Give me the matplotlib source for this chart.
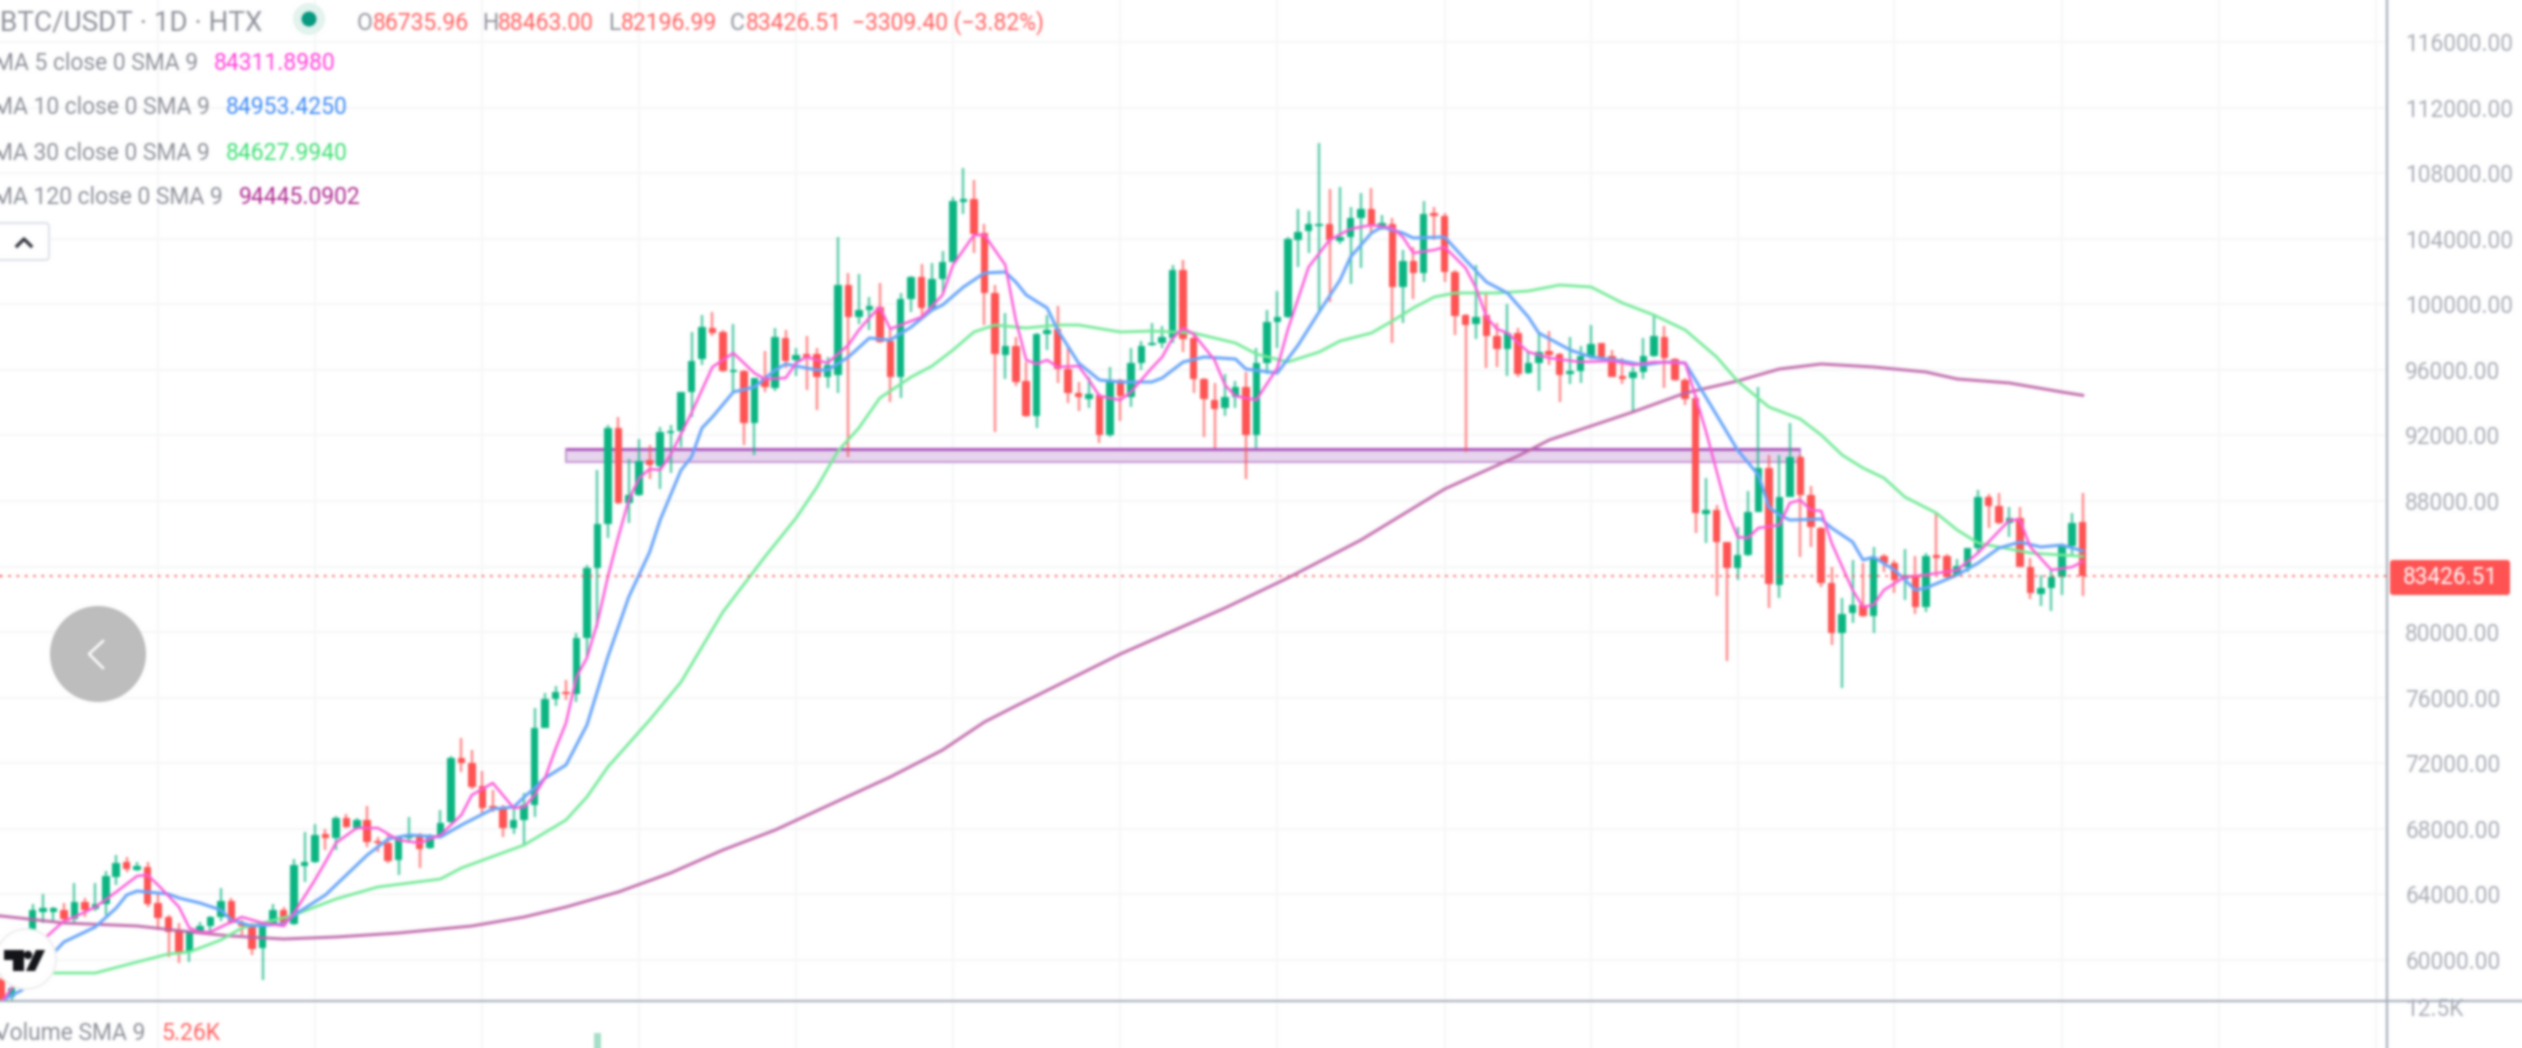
#!/usr/bin/env python
import matplotlib
matplotlib.use("Agg")
import matplotlib.pyplot as plt
import numpy as np
from matplotlib.patches import Circle, FancyBboxPatch, Polygon, Rectangle

plt.rcParams["font.family"] = ["Roboto", "DejaVu Sans"]

# daily candles, oldest first
opens = [
    58780, 57743, 58292, 61708, 62928, 62928, 63050, 62501, 63538, 63111,
    63416, 65063, 65978, 65490, 65673, 63477, 62623, 61830, 60488, 61708,
    62074, 62623, 63599, 62196, 62196, 60732, 62135, 63050, 62196, 65734,
    65978, 67686, 67442, 68662, 68052, 68540, 67259, 67137, 66100, 67442,
    67625, 66832, 67625, 68418, 72322, 72017, 70614, 69394, 69333, 68052,
    68540, 69455, 74152, 75921, 76318, 76226, 79642, 83912, 86596, 92452,
    87877, 88365, 90500, 90134, 92147, 92269, 94648, 96661, 98552, 98308,
    95868, 95929, 92757, 95502, 94892, 97942, 96600, 96966, 96966, 95563,
    95685, 101175, 99223, 99650, 99833, 97759, 95563, 100321, 101663, 99772,
    101541, 102578, 106238, 106421, 104347, 100687, 96905, 97454, 95319, 93184,
    98186, 98491, 96051, 94587, 94221, 94465, 92025, 95380, 94343, 96417,
    97515, 97637, 97942, 102090, 97942, 95441, 94160, 93672, 94343, 94953,
    92025, 96417, 98918, 99223, 103920, 104469, 104774, 104896, 103859, 104103,
    105262, 105811, 104713, 104896, 101053, 102639, 101907, 105567, 105384, 101968,
    99345, 98796, 99345, 98064, 97271, 98247, 95807, 96417, 97149, 96966,
    95746, 95929, 96783, 97637, 96844, 95624, 95502, 95868, 96844, 98003,
    96661, 95380, 94282, 87206, 87450, 85498, 83912, 84705, 87328, 90012,
    82875, 88243, 90683, 88365, 86352, 82997, 79947, 81167, 81655, 80984,
    84644, 84217, 83241, 83485, 81533, 84705, 84644, 83485, 83973, 85132,
    88243, 87694, 86657, 86962, 83973, 82326, 82692, 83363, 85254, 86735.96,
]
closes = [
    57560, 58292, 60610, 63050, 63172, 63172, 62501, 63538, 63050, 63416,
    65124, 65917, 65551, 65734, 63416, 62562, 61708, 60427, 61769, 62074,
    62623, 63599, 62257, 62074, 60671, 62196, 63050, 62135, 65795, 65978,
    67625, 67442, 68662, 68113, 68540, 67198, 67137, 66039, 67503, 67625,
    66771, 67625, 68357, 72322, 72017, 70553, 69272, 69272, 68052, 68540,
    69455, 74152, 75921, 76348, 76226, 79642, 83912, 86596, 92452, 87877,
    88365, 90439, 90195, 92208, 92269, 94648, 96539, 98613, 98247, 95929,
    95990, 92757, 95502, 94953, 98003, 96539, 96905, 96783, 95563, 96295,
    101175, 99223, 99650, 99894, 97698, 95563, 100321, 101663, 99772, 101541,
    102578, 106299, 106421, 104286, 100687, 96966, 97454, 95258, 93184, 98186,
    98430, 96051, 94587, 94343, 94526, 92025, 95319, 94404, 96417, 97454,
    97637, 97993, 102090, 97881, 95441, 94221, 93611, 94343, 94953, 92025,
    96417, 98918, 99223, 103981, 104408, 104896, 104896, 103920, 104103, 105262,
    105811, 104774, 104957, 101053, 102639, 101907, 105506, 105384, 101968, 99284,
    98735, 99223, 98064, 97271, 98247, 95746, 96417, 97088, 96905, 95685,
    95929, 96844, 97576, 96783, 95563, 95441, 95868, 96844, 98064, 96722,
    95380, 94221, 87267, 87450, 85498, 83912, 84705, 87328, 90012, 82936,
    88243, 90683, 88365, 86413, 82997, 79947, 81106, 81655, 80984, 84583,
    84217, 83180, 83485, 81533, 84644, 84522, 83363, 84034, 85132, 88243,
    87694, 86657, 86962, 83973, 82387, 82692, 83363, 85254, 86657, 83426.51,
]
highs = [
    58902, 58475, 60915, 63416, 64026, 63233, 63477, 64697, 63782, 64697,
    65429, 66405, 66283, 65978, 65978, 64026, 62745, 62257, 61769, 62318,
    62684, 64392, 63782, 62440, 62257, 62196, 63416, 63233, 66161, 67808,
    68296, 67991, 68784, 68906, 68662, 69394, 67503, 67625, 67564, 68723,
    67747, 67686, 69150, 72444, 73542, 72810, 71529, 70370, 69455, 69333,
    70187, 75372, 76287, 76714, 77080, 79947, 84095, 89890, 92635, 93123,
    90561, 91781, 91415, 92513, 92635, 94648, 98308, 99345, 99528, 98430,
    98796, 95990, 95502, 97149, 98552, 98430, 97332, 98064, 97332, 96783,
    104103, 101907, 101846, 100443, 101297, 98430, 100687, 101724, 102456, 102517,
    103249, 106543, 108312, 107580, 104896, 101175, 99467, 98003, 96478, 98247,
    99345, 99894, 97393, 95258, 95563, 94587, 96173, 95441, 97332, 97759,
    98857, 98674, 102395, 102700, 98125, 95502, 95197, 95746, 95319, 95868,
    97332, 99650, 100809, 104103, 105811, 105689, 109837, 107031, 107153, 105933,
    106787, 107092, 105445, 105262, 103310, 103493, 106299, 105933, 105567, 102090,
    99406, 102395, 100687, 98857, 100016, 98552, 97088, 98308, 98369, 97027,
    98003, 97454, 98735, 97637, 97210, 96722, 96173, 97942, 99406, 98674,
    96722, 95502, 94465, 89402, 87755, 85498, 86413, 88609, 94953, 90805,
    90805, 92757, 90805, 88914, 86413, 83973, 82082, 84400, 84217, 85193,
    84766, 84400, 85071, 84644, 84827, 87328, 84766, 84461, 85132, 88670,
    88426, 88487, 87633, 87633, 84522, 83485, 83790, 85315, 87267, 88463,
]
lows = [
    57255, 57560, 58170, 61403, 62257, 62379, 62257, 62318, 62623, 62989,
    62745, 64575, 65368, 65429, 63233, 61830, 60183, 59817, 59878, 61647,
    61647, 62379, 62196, 61525, 60305, 58780, 62074, 62013, 62135, 64758,
    65917, 66710, 66710, 68052, 67930, 66893, 66588, 65917, 65185, 67137,
    65612, 66771, 67564, 68357, 71468, 70431, 68845, 69028, 67503, 67686,
    67015, 68723, 74152, 75494, 75860, 75738, 78483, 80252, 85742, 87816,
    86657, 88304, 89341, 88731, 89707, 91293, 93123, 96295, 98064, 95868,
    94587, 91415, 90805, 94648, 94709, 96112, 95624, 94770, 93550, 94892,
    94587, 90683, 98796, 98430, 97637, 94038, 94282, 99528, 99223, 99711,
    100687, 102578, 105506, 103127, 98735, 92208, 95441, 95014, 93123, 92452,
    97210, 95197, 93977, 93489, 93672, 91537, 91903, 92879, 93733, 95990,
    97454, 97332, 97637, 97088, 94587, 91903, 91232, 93184, 93672, 89341,
    91232, 95746, 97332, 99162, 102273, 103127, 99650, 100138, 103676, 101236,
    102212, 104347, 104530, 97637, 98857, 100321, 101358, 103920, 101358, 98125,
    90988, 97881, 96112, 96173, 95624, 95563, 95746, 94709, 96295, 94038,
    95136, 95197, 96661, 96722, 95563, 95136, 93428, 95441, 96783, 94892,
    95319, 93855, 86047, 85437, 82204, 78239, 83180, 84644, 87328, 81472,
    82082, 88243, 84583, 85193, 82753, 79215, 76592, 80557, 80923, 79947,
    83668, 82387, 81960, 81106, 81228, 83607, 83241, 83424, 83668, 84827,
    86352, 86596, 85803, 83973, 82021, 81594, 81289, 82265, 84583, 82196.99,
]

# moving averages, candle index and value at the bends of each line
ma5_idx = [0, 2, 4, 6, 7, 9, 11, 13, 14, 15, 17, 18, 19, 20, 22, 23, 25, 27, 28, 30,
           31, 32, 34, 36, 38, 40, 42, 44, 45, 47, 49, 50, 51, 52, 53, 54, 55, 56, 57, 58,
           59, 60, 61, 62, 63, 64, 66, 68, 70, 72, 73, 75, 76, 77, 79, 81, 82, 83, 84, 85,
           86, 88, 90, 91, 93, 94, 96, 97, 98, 99, 100, 101, 103, 104, 105, 107, 108, 110, 111, 112,
           113, 114, 116, 117, 118, 120, 122, 123, 125, 127, 129, 131, 133, 134, 135, 137, 138, 140, 141, 142,
           143, 144, 146, 148, 151, 154, 156, 158, 161, 162, 163, 165, 166, 167, 168, 170, 171, 172, 173, 174,
           175, 177, 178, 179, 180, 182, 184, 187, 189, 192, 193, 194, 196, 198, 199]
ma5_val = [57438, 59085, 61220, 62379, 62623, 63233, 64148, 65124, 65185, 64575, 63233, 61952, 61708, 61708, 62318, 62623, 62257, 62074, 62867, 64880,
           65978, 67137, 68052, 68052, 67320, 67137, 67625, 68845, 70065, 70797, 69272, 69333, 70065, 71102, 72871, 74457, 77263, 78422, 80557, 83363,
           85803, 88060, 89402, 89951, 89890, 90805, 93367, 96173, 97027, 95807, 95441, 95502, 96417, 96783, 96417, 97515, 98430, 99162, 99833, 98491,
           98735, 99223, 100565, 102395, 104225, 104225, 102395, 99040, 96600, 96356, 96600, 96173, 96234, 95380, 94404, 94160, 94648, 96112, 96783, 97942,
           98552, 98186, 96600, 95075, 94404, 94160, 96112, 98430, 102273, 103920, 104591, 104835, 104652, 104103, 103127, 103310, 103493, 102212, 100992, 99223,
           98491, 98247, 97088, 96722, 96478, 96539, 96295, 96478, 96417, 94343, 92208, 87450, 85803, 85742, 86352, 86535, 87877, 88060, 87450, 87389,
           85437, 82570, 81533, 81655, 82570, 83363, 83485, 83790, 84827, 86840, 86840, 85193, 83790, 83973, 84311.9]

ma10_idx = [0, 2, 5, 6, 9, 11, 12, 13, 16, 17, 19, 21, 22, 24, 27, 28, 31, 33, 35, 37,
            39, 42, 44, 47, 49, 50, 51, 52, 54, 56, 58, 60, 62, 63, 65, 66, 67, 68, 70, 72,
            74, 75, 78, 79, 81, 83, 85, 87, 89, 90, 92, 94, 96, 97, 98, 100, 101, 103, 105, 107,
            110, 111, 113, 115, 118, 119, 122, 124, 126, 128, 129, 131, 132, 134, 135, 138, 140, 142, 144, 146,
            147, 150, 152, 155, 157, 159, 161, 164, 166, 168, 169, 170, 171, 174, 175, 177, 178, 179, 181, 183,
            184, 187, 189, 191, 193, 195, 197, 199]
ma10_val = [57499, 58170, 60427, 61098, 62013, 63172, 63965, 64209, 64026, 63782, 63477, 63050, 62440, 62074, 62196, 62745, 63965, 65185, 66405, 67381,
            67625, 67503, 68235, 69211, 69333, 69943, 70492, 71102, 71895, 74335, 78483, 82143, 84888, 86840, 89890, 90683, 92452, 93123, 94648, 94953,
            95990, 96356, 95990, 95990, 96783, 97942, 97820, 98613, 99650, 99955, 101053, 101907, 101968, 101358, 100565, 99772, 98430, 96417, 95380, 95258,
            95258, 95502, 96478, 96783, 96661, 96051, 95807, 97515, 99528, 101480, 102883, 104347, 104713, 104347, 104042, 104103, 102700, 101358, 100687, 99223,
            98247, 97210, 96783, 96539, 96295, 96478, 96417, 93245, 91110, 89585, 87633, 87145, 86840, 86901, 86352, 85498, 84400, 84583, 83790, 82570,
            82692, 83485, 84217, 85132, 85498, 85193, 85315, 84953.43]

ma30_idx = [0, 5, 7, 9, 13, 16, 18, 21, 23, 25, 28, 32, 36, 42, 44, 50, 54, 56, 58, 62,
            65, 67, 69, 73, 76, 78, 80, 82, 84, 87, 89, 91, 93, 95, 98, 101, 103, 107, 110, 114,
            118, 120, 123, 126, 128, 131, 133, 135, 137, 139, 143, 146, 149, 152, 155, 158, 161, 164, 166, 169,
            172, 174, 176, 178, 180, 182, 185, 187, 189, 192, 194, 197, 199]
ma30_val = [59146, 59207, 59207, 59207, 59878, 60366, 60488, 61220, 61952, 62257, 62745, 63721, 64453, 64941, 65612, 67015, 68540, 69943, 71773, 74640,
            76958, 79093, 81228, 84583, 86962, 88853, 91049, 92452, 94282, 95563, 96234, 97210, 98308, 98735, 98552, 98735, 98735, 98308, 98369, 98247,
            97637, 96966, 96478, 97088, 97759, 98247, 98979, 99772, 100443, 100687, 100687, 100809, 101175, 101053, 100077, 99345, 98430, 96783, 95319, 93733,
            93001, 92025, 90805, 90012, 89402, 88243, 87267, 86230, 85437, 85071, 84827, 84705, 84627.99]

ma120_idx = [0, 6, 13, 19, 22, 27, 32, 38, 45, 50, 54, 59, 64, 69, 74, 80, 85, 90, 94, 97,
             107, 117, 123, 130, 138, 145, 148, 156, 161, 166, 170, 174, 179, 184, 187, 192, 197, 199]
ma120_val = [62684, 62257, 62074, 61647, 61464, 61281, 61403, 61647, 62074, 62623, 63233, 64148, 65307, 66710, 67930, 69699, 71163, 72810, 74518, 75494,
             78666, 81472, 83302, 85620, 88731, 90744, 91720, 93428, 94587, 95319, 96051, 96356, 96173, 95868, 95441, 95197, 94648, 94445.09]

y_ticks = list(range(60000, 116001, 4000))
month_idx = [15, 30, 46, 61, 76, 91, 107, 122, 138, 152, 166, 181, 197, 212, 227]

band_left = 54
band_right = 172
band_top = 91171
band_bottom = 90378

volume_idx = [57]
volume_val = [8600]

up_col = "#0BB582"
down_col = "#FF5252"
grid_col = "#F6F7F9"
text_col = "#A9ADB6"
frame_col = "#A8AFBB"


# the screenshot is soft, so soften the whole figure a little
def soften(img, dpi):
    weights = {0: 0.30, 1: 0.235, 2: 0.09, 3: 0.025}
    pad = 4
    padded = np.pad(img, ((pad, pad), (pad, pad), (0, 0)), mode="edge")
    for axis in (0, 1):
        out = padded * weights[0]
        for d in (1, 2, 3):
            out = out + (np.roll(padded, d, axis=axis) + np.roll(padded, -d, axis=axis)) * weights[d]
        padded = out
    return padded[pad:-pad, pad:-pad], 0, 0


fig = plt.figure(figsize=(25.22, 10.48), dpi=100)
fig.set_agg_filter(soften)
ax = fig.add_axes([0, 47 / 1048, 2387 / 2522, 1001 / 1048])
vol_ax = fig.add_axes([0, 0, 2387 / 2522, 46 / 1048])

# band sits behind the candles
ax.add_patch(Rectangle((band_left, band_bottom), band_right - band_left, band_top - band_bottom,
                       facecolor="#E7D4EE", edgecolor="#C596D2", lw=1.4, zorder=1))
ax.plot([band_left, band_right], [band_top, band_top], color="#AB52BC", lw=2, zorder=1.5, solid_capstyle="butt")

for i in range(len(opens)):
    col = up_col if closes[i] >= opens[i] else down_col
    ax.vlines(i, lows[i], highs[i], color=col, lw=1.7, alpha=0.7, zorder=2)
    ax.bar(i, abs(closes[i] - opens[i]), bottom=min(opens[i], closes[i]), width=0.72, color=col, zorder=3)

ax.plot(ma120_idx, ma120_val, color="#BE64A8", lw=2.2, alpha=0.9, zorder=4)
ax.plot(ma30_idx, ma30_val, color="#74EA98", lw=2, zorder=4)
ax.plot(ma10_idx, ma10_val, color="#68A5FA", lw=2.2, zorder=4)
ax.plot(ma5_idx, ma5_val, color="#FB5AD8", lw=1.8, zorder=4)

ax.axhline(closes[-1], color=down_col, lw=1.3, linestyle=(0, (1.4, 3.2)), zorder=5)

ax.set_xlim(-0.111, 228.09)
ax.set_ylim(57499, 118560)
ax.set_xticks(month_idx)
ax.set_yticks(y_ticks)
# 84000 sits behind the price tag in the reference
ax.set_yticklabels(["" if t == 84000 else f"{t:.2f}" for t in y_ticks], fontsize=16.3, color=text_col)
ax.set_xticklabels([])
ax.yaxis.tick_right()
ax.tick_params(length=0, pad=13)
ax.grid(color=grid_col, lw=1.3)
ax.set_axisbelow(True)
for s in ax.spines.values():
    s.set_visible(False)

vol_ax.bar(volume_idx, volume_val, width=0.72, color="#A5DFC8", zorder=3)
vol_ax.set_xlim(-0.111, 228.09)
vol_ax.set_ylim(6325, 13253)
vol_ax.set_xticks(month_idx)
vol_ax.set_xticklabels([])
vol_ax.set_yticks([12500])
vol_ax.set_yticklabels(["12.5K"], fontsize=16.3, color=text_col)
vol_ax.yaxis.tick_right()
vol_ax.tick_params(length=0, pad=13)
vol_ax.grid(axis="x", color=grid_col, lw=1.3)
vol_ax.set_axisbelow(True)
for s in vol_ax.spines.values():
    s.set_visible(False)

# everything else on top, placed in image pixels
top = fig.add_axes([0, 0, 1, 1])
top.set_xlim(0, 2522)
top.set_ylim(1048, 0)
top.axis("off")
top.patch.set_alpha(0)

top.plot([2387, 2387], [0, 1048], color=frame_col, lw=1.6)
top.plot([0, 2522], [1001, 1001], color=frame_col, lw=1.6)

top.add_patch(FancyBboxPatch((2390, 560), 120, 35, boxstyle="round,pad=0,rounding_size=3",
                             facecolor=down_col, edgecolor="none"))
top.text(2450, 578, "83426.51", color="white", fontsize=16.3, ha="center", va="center")

top.text(262, 23, "BTC/USDT · 1D · HTX", color="#8F929B", fontsize=20, ha="right", va="center")
top.add_patch(Circle((309, 19), 16, facecolor="#E3F3EE", edgecolor="none"))
top.add_patch(Circle((309, 19), 7.5, facecolor="#089981", edgecolor="none"))

ohlc_pos = [(357, "O", 373, "86735.96"), (482, "H", 498, "88463.00"),
            (608, "L", 621, "82196.99"), (730, "C", 746, "83426.51")]
for lx, letter, vx, val in ohlc_pos:
    top.text(lx, 23, letter, color="#8F929B", fontsize=16.5, va="center")
    top.text(vx, 23, val, color="#FF6060", fontsize=16.5, va="center")
top.text(852, 23, "−3309.40 (−3.82%)", color="#FF6060", fontsize=16.5, va="center")

legend_rows = [
    (64, "MA 5 close 0 SMA 9", 198, 214, "84311.8980", "#FF40DA"),
    (108, "MA 10 close 0 SMA 9", 210, 226, "84953.4250", "#3F8CF7"),
    (153, "MA 30 close 0 SMA 9", 210, 226, "84627.9940", "#3FE074"),
    (197, "MA 120 close 0 SMA 9", 223, 239, "94445.0902", "#B02D93"),
]
for y, label, right, vx, val, col in legend_rows:
    top.text(right, y, label, color="#8F929B", fontsize=16.5, ha="right", va="center")
    top.text(vx, y, val, color=col, fontsize=16.5, va="center")

top.add_patch(FancyBboxPatch((-6, 223), 55, 37, boxstyle="round,pad=0,rounding_size=4",
                             facecolor="white", edgecolor="#DFE2E8", lw=1.5))
top.plot([17, 24, 31], [246, 239, 246], color="#33363F", lw=2.4)

top.text(145, 1033, "Volume SMA 9", color="#8F929B", fontsize=16.5, ha="right", va="center")
top.text(161, 1033, "5.26K", color="#FF6060", fontsize=16.5, va="center")

# back button
top.add_patch(Circle((98, 654), 48, facecolor="#BDBDBD", edgecolor="none"))
top.plot([103, 89, 103], [641, 654, 668], color="white", lw=1.8)

# logo badge
top.add_patch(Circle((26, 959), 30, facecolor="white", edgecolor="#EFEFEF", lw=1.5))
top.add_patch(Polygon([(4, 950), (24, 950), (24, 971), (13, 971), (13, 960), (4, 960)], facecolor="#14151A", edgecolor="none"))
top.add_patch(Circle((28, 955), 4.2, facecolor="#14151A", edgecolor="none"))
top.add_patch(Polygon([(45, 950), (36, 950), (26, 971), (35, 971)], facecolor="#14151A", edgecolor="none"))

plt.savefig("out.png", dpi=100)
